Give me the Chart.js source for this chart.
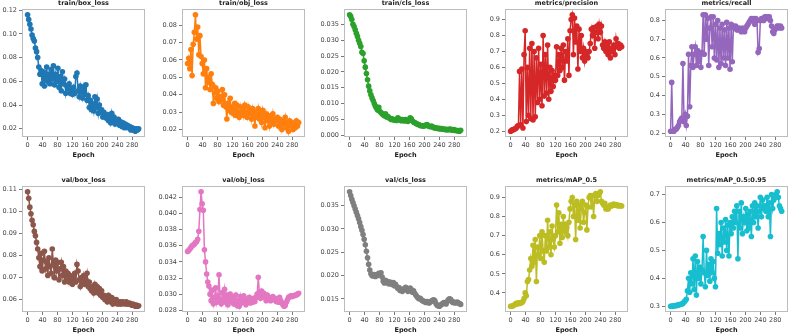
<!DOCTYPE html>
<html>
<head>
<meta charset="utf-8">
<script src="https://cdn.jsdelivr.net/npm/chart.js@4.4.1/dist/chart.umd.min.js"></script>
<style>
html,body{margin:0;padding:0;background:#fff;}
body{width:792px;height:335px;position:relative;overflow:hidden;}
canvas{position:absolute;}
</style>
</head>
<body>
<script>
// ---- data ----
const epochs = [0,3,6,9,12,15,18,21,24,27,30,33,36,39,42,45,48,51,54,57,60,63,66,69,72,75,78,81,84,87,90,93,96,99,102,105,108,111,114,117,120,123,126,129,132,135,138,141,144,147,150,153,156,159,162,165,168,171,174,177,180,183,186,189,192,195,198,201,204,207,210,213,216,219,222,225,228,231,234,237,240,243,246,249,252,255,258,261,264,267,270,273,276,279,282,285,288,291,294,297];

const trainBoxLoss = [0.116,0.112,0.108,0.104,0.099,0.096,0.094,0.088,0.085,0.080,
0.072,0.066,0.069,0.058,0.068,0.056,0.064,0.072,0.060,0.066,
0.058,0.070,0.062,0.073,0.057,0.066,0.060,0.071,0.055,0.064,
0.052,0.068,0.058,0.062,0.050,0.056,0.054,0.058,0.050,0.054,
0.049,0.055,0.050,0.064,0.067,0.052,0.047,0.056,0.051,0.046,
0.055,0.049,0.057,0.044,0.048,0.038,0.044,0.036,0.041,0.035,
0.047,0.038,0.045,0.033,0.040,0.034,0.036,0.030,0.034,0.031,
0.029,0.032,0.027,0.030,0.025,0.033,0.026,0.030,0.024,0.028,
0.025,0.028,0.023,0.026,0.022,0.025,0.021,0.024,0.021,0.023,
0.021,0.022,0.019,0.021,0.019,0.020,0.018,0.020,0.019,0.020];

const trainObjLoss = [0.058,0.061,0.055,0.066,0.051,0.069,0.076,0.086,0.072,0.079,
0.063,0.074,0.062,0.058,0.052,0.060,0.044,0.055,0.047,0.050,
0.043,0.052,0.046,0.035,0.041,0.044,0.038,0.042,0.036,0.039,
0.037,0.043,0.034,0.040,0.033,0.026,0.035,0.031,0.038,0.030,
0.033,0.029,0.035,0.028,0.034,0.030,0.027,0.033,0.029,0.032,
0.028,0.034,0.030,0.027,0.033,0.029,0.031,0.026,0.032,0.028,
0.022,0.030,0.027,0.032,0.026,0.029,0.024,0.031,0.027,0.021,
0.029,0.025,0.028,0.022,0.027,0.024,0.029,0.023,0.026,0.025,
0.027,0.022,0.026,0.024,0.020,0.025,0.023,0.027,0.021,0.024,
0.019,0.025,0.022,0.024,0.020,0.023,0.021,0.025,0.022,0.024];

const trainClsLoss = [0.0380,0.0375,0.0365,0.0350,0.0343,0.0333,0.0322,0.0312,0.0300,0.0290,
0.0280,0.0262,0.0258,0.0235,0.0215,0.0195,0.0175,0.0155,0.0140,0.0128,
0.0118,0.0110,0.0100,0.0092,0.0085,0.0080,0.0088,0.0075,0.0072,0.0068,
0.0065,0.0062,0.0068,0.0058,0.0060,0.0055,0.0054,0.0050,0.0052,0.0049,
0.0048,0.0050,0.0047,0.0055,0.0052,0.0049,0.0046,0.0050,0.0047,0.0045,
0.0050,0.0046,0.0044,0.0048,0.0055,0.0052,0.0045,0.0042,0.0040,0.0038,
0.0036,0.0034,0.0033,0.0031,0.0030,0.0030,0.0029,0.0030,0.0032,0.0034,
0.0030,0.0028,0.0027,0.0029,0.0026,0.0025,0.0023,0.0024,0.0022,0.0021,
0.0022,0.0020,0.0021,0.0019,0.0020,0.0018,0.0019,0.0017,0.0019,0.0018,
0.0020,0.0017,0.0016,0.0018,0.0015,0.0016,0.0014,0.0015,0.0013,0.0016];

const precision = [0.20,0.205,0.21,0.21,0.215,0.22,0.23,0.235,0.575,0.24,
0.59,0.22,0.68,0.83,0.26,0.60,0.30,0.72,0.28,0.75,
0.27,0.70,0.29,0.66,0.38,0.72,0.40,0.62,0.36,0.80,
0.42,0.68,0.44,0.74,0.40,0.60,0.45,0.58,0.48,0.55,
0.52,0.73,0.55,0.68,0.58,0.72,0.60,0.74,0.52,0.70,
0.64,0.78,0.55,0.83,0.90,0.93,0.68,0.91,0.76,0.86,
0.59,0.84,0.70,0.80,0.66,0.72,0.64,0.70,0.68,0.66,
0.70,0.75,0.84,0.80,0.85,0.72,0.82,0.86,0.78,0.87,
0.82,0.86,0.74,0.72,0.76,0.70,0.74,0.68,0.76,0.66,
0.72,0.70,0.74,0.68,0.78,0.73,0.75,0.72,0.74,0.73];

const recall = [0.21,0.47,0.21,0.21,0.22,0.22,0.23,0.24,0.26,0.27,
0.28,0.57,0.26,0.30,0.24,0.29,0.62,0.34,0.56,0.66,
0.55,0.62,0.66,0.56,0.64,0.58,0.62,0.55,0.63,0.83,
0.62,0.83,0.70,0.81,0.56,0.76,0.82,0.66,0.82,0.60,
0.78,0.59,0.80,0.55,0.76,0.57,0.78,0.60,0.75,0.56,
0.79,0.60,0.76,0.54,0.78,0.58,0.77,0.76,0.77,0.75,
0.75,0.76,0.75,0.74,0.76,0.75,0.74,0.76,0.77,0.78,
0.79,0.80,0.81,0.80,0.81,0.78,0.81,0.80,0.63,0.65,
0.80,0.81,0.81,0.80,0.82,0.82,0.81,0.82,0.82,0.80,
0.77,0.74,0.73,0.75,0.76,0.77,0.77,0.76,0.77,0.76];

const valBoxLoss = [0.109,0.106,0.102,0.099,0.096,0.094,0.091,0.089,0.086,0.083,
0.079,0.075,0.081,0.073,0.078,0.082,0.074,0.077,0.071,0.079,
0.075,0.072,0.083,0.076,0.070,0.078,0.073,0.077,0.069,0.074,
0.077,0.071,0.075,0.068,0.073,0.070,0.072,0.068,0.071,0.069,
0.067,0.070,0.072,0.068,0.076,0.073,0.069,0.066,0.070,0.068,
0.071,0.067,0.069,0.072,0.066,0.068,0.065,0.064,0.066,0.063,
0.067,0.064,0.066,0.063,0.065,0.062,0.064,0.061,0.062,0.060,
0.061,0.059,0.062,0.060,0.059,0.061,0.058,0.060,0.059,0.060,
0.058,0.059,0.058,0.059,0.058,0.059,0.0585,0.058,0.059,0.058,
0.058,0.0585,0.058,0.0575,0.058,0.0575,0.057,0.0575,0.057,0.0572];

const valObjLoss = [0.0353,0.0354,0.0356,0.0358,0.0360,0.0361,0.0362,0.0364,0.0365,0.0368,
0.0378,0.0405,0.0427,0.0412,0.0404,0.0355,0.0340,0.0325,0.0315,0.0310,
0.0300,0.0292,0.0305,0.0288,0.0296,0.0308,0.0290,0.0298,0.0324,0.0293,
0.0288,0.0302,0.0294,0.0306,0.0290,0.0299,0.0287,0.0295,0.0300,0.0291,
0.0297,0.0288,0.0293,0.0299,0.0286,0.0292,0.0285,0.0297,0.0289,0.0295,
0.0298,0.0291,0.0287,0.0294,0.0290,0.0296,0.0289,0.0292,0.0290,0.0295,
0.0291,0.0296,0.0300,0.0321,0.0302,0.0295,0.0304,0.0298,0.0301,0.0296,
0.0292,0.0299,0.0293,0.0296,0.0292,0.0294,0.0297,0.0293,0.0295,0.0291,
0.0293,0.0290,0.0296,0.0292,0.0289,0.0287,0.0285,0.0286,0.0290,0.0293,
0.0296,0.0297,0.0298,0.0297,0.0298,0.0298,0.0299,0.0299,0.0300,0.0301];

const valClsLoss = [0.0380,0.0372,0.0364,0.0357,0.0350,0.0343,0.0336,0.0329,0.0322,0.0314,
0.0305,0.0297,0.0288,0.0278,0.0266,0.0252,0.0238,0.0224,0.0212,0.0204,
0.0200,0.0199,0.0202,0.0198,0.0201,0.0200,0.0205,0.0203,0.0206,0.0197,
0.0188,0.0184,0.0190,0.0185,0.0187,0.0182,0.0186,0.0183,0.0181,0.0185,
0.0178,0.0181,0.0176,0.0172,0.0174,0.0168,0.0171,0.0166,0.0169,0.0172,
0.0175,0.0170,0.0166,0.0168,0.0173,0.0170,0.0164,0.0167,0.0162,0.0158,
0.0155,0.0152,0.0150,0.0151,0.0148,0.0146,0.0145,0.0143,0.0142,0.0144,
0.0142,0.0141,0.0143,0.0145,0.0147,0.0148,0.0146,0.0140,0.0136,0.0135,
0.0134,0.0136,0.0138,0.0140,0.0142,0.0141,0.0139,0.0144,0.0148,0.0150,
0.0149,0.0145,0.0142,0.0143,0.0141,0.0142,0.0143,0.0141,0.0140,0.0138];

const mAP50 = [0.330,0.330,0.332,0.335,0.340,0.345,0.342,0.348,0.345,0.350,
0.348,0.355,0.370,0.400,0.385,0.460,0.470,0.520,0.580,0.540,
0.650,0.560,0.680,0.460,0.640,0.600,0.700,0.580,0.720,0.620,
0.560,0.700,0.620,0.780,0.640,0.720,0.600,0.750,0.680,0.640,
0.700,0.860,0.720,0.820,0.660,0.760,0.690,0.800,0.720,0.760,
0.740,0.700,0.770,0.840,0.880,0.900,0.800,0.860,0.680,0.880,
0.780,0.860,0.740,0.840,0.880,0.770,0.820,0.860,0.730,0.850,
0.900,0.910,0.850,0.910,0.800,0.910,0.920,0.880,0.910,0.920,
0.930,0.880,0.870,0.860,0.870,0.840,0.850,0.840,0.850,0.860,
0.855,0.860,0.865,0.860,0.858,0.862,0.855,0.858,0.857,0.855];

const mAP5095 = [0.300,0.301,0.300,0.302,0.303,0.302,0.304,0.305,0.306,0.307,
0.308,0.310,0.315,0.320,0.325,0.355,0.400,0.350,0.420,0.380,
0.470,0.360,0.480,0.340,0.460,0.400,0.440,0.380,0.430,0.550,
0.420,0.370,0.500,0.410,0.450,0.390,0.470,0.420,0.460,0.400,
0.370,0.650,0.490,0.560,0.520,0.600,0.480,0.580,0.530,0.610,
0.500,0.590,0.480,0.600,0.560,0.620,0.580,0.640,0.600,0.660,
0.470,0.640,0.580,0.670,0.560,0.620,0.600,0.650,0.570,0.630,
0.580,0.640,0.550,0.660,0.600,0.670,0.620,0.660,0.580,0.640,
0.690,0.620,0.680,0.650,0.660,0.640,0.690,0.620,0.670,0.550,
0.700,0.650,0.680,0.690,0.700,0.710,0.690,0.660,0.650,0.640];

// ---- tick labels ----
const epochTicks = [0,40,80,120,160,200,240,280];
const trainBoxTicks = [0.02,0.04,0.06,0.08,0.10,0.12];
const trainObjTicks = [0.02,0.03,0.04,0.05,0.06,0.07,0.08];
const trainClsTicks = [0.000,0.005,0.010,0.015,0.020,0.025,0.030,0.035];
const precisionTicks = [0.2,0.3,0.4,0.5,0.6,0.7,0.8,0.9];
const recallTicks = [0.2,0.3,0.4,0.5,0.6,0.7,0.8];
const valBoxTicks = [0.06,0.07,0.08,0.09,0.10,0.11];
const valObjTicks = [0.028,0.030,0.032,0.034,0.036,0.038,0.040,0.042];
const valClsTicks = [0.015,0.020,0.025,0.030,0.035];
const mAP50Ticks = [0.4,0.5,0.6,0.7,0.8,0.9];
const mAP5095Ticks = [0.3,0.4,0.5,0.6,0.7];

const titles = ['train/box_loss','train/obj_loss','train/cls_loss','metrics/precision','metrics/recall',
                'val/box_loss','val/obj_loss','val/cls_loss','metrics/mAP_0.5','metrics/mAP_0.5:0.95'];
const series = [trainBoxLoss,trainObjLoss,trainClsLoss,precision,recall,valBoxLoss,valObjLoss,valClsLoss,mAP50,mAP5095];
const yTicks = [trainBoxTicks,trainObjTicks,trainClsTicks,precisionTicks,recallTicks,valBoxTicks,valObjTicks,valClsTicks,mAP50Ticks,mAP5095Ticks];
const decimals = [2,2,3,1,1,2,3,3,1,1];
const colors = ['#1f77b4','#ff7f0e','#2ca02c','#d62728','#9467bd','#8c564b','#e377c2','#7f7f7f','#bcbd22','#17becf'];

// ---- layout ----
const colLeft = [22,182,344,505,665];
const plotW = 123;
const rowTop = [9,186];
const rowBottom = [137,312];
const AXW = 40, PADTOP = 18, AXH = 26, PADR = 6;

const decor = {
  id:'decor',
  afterDraw(chart, args, opts){
    const {ctx, chartArea:a} = chart;
    ctx.save();
    ctx.strokeStyle = '#bcbcbc';
    ctx.lineWidth = 1;
    ctx.strokeRect(Math.round(a.left)+0.5, Math.round(a.top)+0.5, Math.round(a.right-a.left)-1, Math.round(a.bottom-a.top)-1);
    ctx.fillStyle = '#222';
    ctx.font = 'bold 6.5px "DejaVu Sans"';
    ctx.textAlign = 'center';
    ctx.textBaseline = 'alphabetic';
    ctx.fillText(opts.title, (a.left+a.right)/2, a.top - 4);
    ctx.textBaseline = 'middle';
    ctx.fillText('Epoch', (a.left+a.right)/2, a.bottom + 18);
    ctx.restore();
  }
};

for (let i = 0; i < 10; i++) {
  const c = i % 5, r = Math.floor(i / 5);
  const L = colLeft[c], T = rowTop[r], B = rowBottom[r];
  const cv = document.createElement('canvas');
  const w = AXW + plotW + PADR, h = PADTOP + (B - T) + AXH;
  cv.width = w; cv.height = h;
  cv.style.left = (L - AXW) + 'px';
  cv.style.top = (T - PADTOP) + 'px';
  cv.style.width = w + 'px'; cv.style.height = h + 'px';
  document.body.appendChild(cv);

  const vals = series[i];
  const mn = Math.min(...vals), mx = Math.max(...vals), sp = mx - mn;
  const dec = decimals[i];
  const tickList = yTicks[i];

  new Chart(cv, {
    type: 'line',
    data: {
      labels: epochs,
      datasets: [{
        data: epochs.map((e, k) => ({x: e, y: vals[k]})),
        borderColor: colors[i],
        backgroundColor: colors[i],
        borderWidth: 1.5,
        pointRadius: 2.8,
        pointBorderWidth: 0,
        pointBackgroundColor: colors[i],
        tension: 0,
        clip: false
      }]
    },
    options: {
      responsive: false,
      animation: false,
      devicePixelRatio: 1,
      layout: {padding: {top: PADTOP, right: PADR, left: 0, bottom: 0}},
      plugins: {legend: {display: false}, tooltip: {enabled: false}, decor: {title: titles[i]}},
      scales: {
        x: {
          type: 'linear',
          min: -14.95, max: 313.95,
          afterBuildTicks: s => { s.ticks = epochTicks.map(v => ({value: v})); },
          afterFit: s => { s.height = AXH; },
          ticks: {autoSkip: false, maxRotation: 0, padding: 1, color: '#444',
                  font: {family: 'DejaVu Sans', size: 6.5}, callback: v => String(v)},
          grid: {display: true, drawOnChartArea: false, drawTicks: true, tickLength: 3, color: '#555', lineWidth: 0.8},
          border: {display: false}
        },
        y: {
          type: 'linear',
          min: mn - 0.05 * sp, max: mx + 0.05 * sp,
          afterBuildTicks: s => { s.ticks = tickList.map(v => ({value: v})); },
          afterFit: s => { s.width = AXW; },
          ticks: {autoSkip: false, padding: 2, color: '#444',
                  font: {family: 'DejaVu Sans', size: 6.5}, callback: v => Number(v).toFixed(dec)},
          grid: {display: true, drawOnChartArea: false, drawTicks: true, tickLength: 3, color: '#555', lineWidth: 0.8},
          border: {display: false}
        }
      }
    },
    plugins: [decor]
  });
}
</script>
</body>
</html>
